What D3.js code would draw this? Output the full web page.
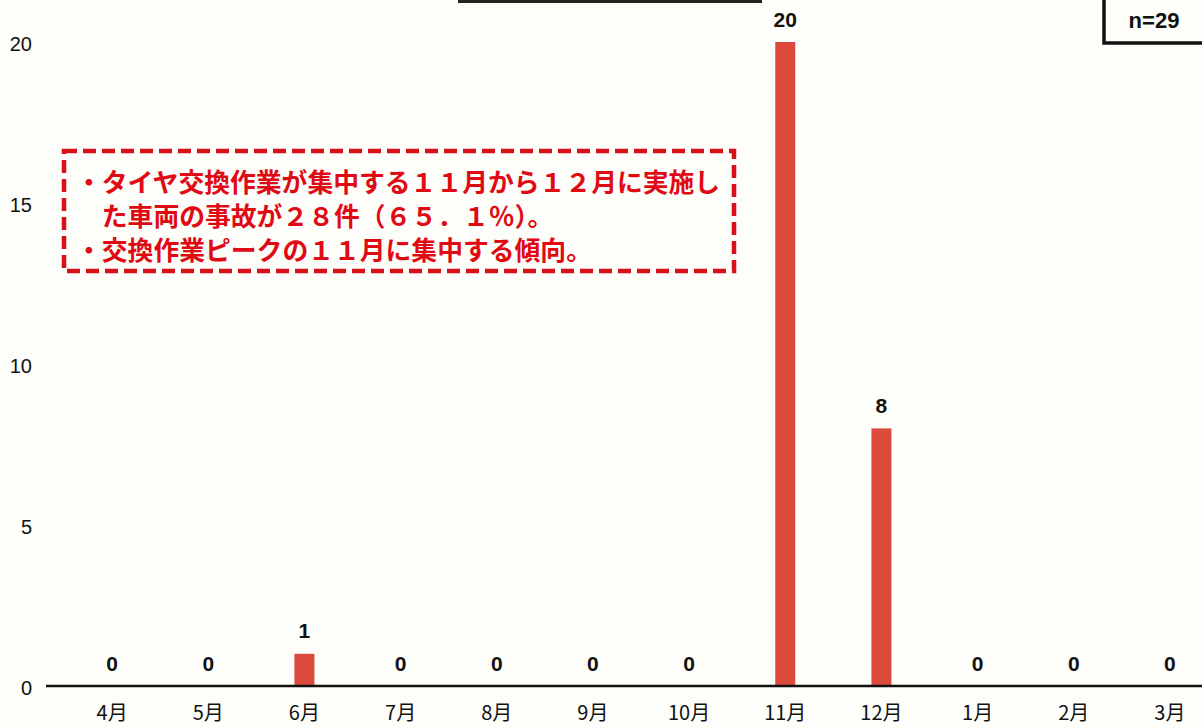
<!DOCTYPE html>
<html>
<head>
<meta charset="utf-8">
<script src="https://cdn.jsdelivr.net/npm/d3@7/dist/d3.min.js"></script>
<style>
  html, body { margin: 0; padding: 0; background: #fdfdf9; }
  svg { display: block; }
</style>
</head>
<body>
<div id="chart"></div>
<script>
// Monthly accident counts (April through March)
const months = ["4月", "5月", "6月", "7月", "8月", "9月", "10月", "11月", "12月", "1月", "2月", "3月"];
const counts = [0, 0, 1, 0, 0, 0, 0, 20, 8, 0, 0, 0];
const yTicks = [0, 5, 10, 15, 20];
const noteLines = [
  "・タイヤ交換作業が集中する１１月から１２月に実施し",
  "　た車両の事故が２８件（６５．１％）。",
  "・交換作業ピークの１１月に集中する傾向。"
];
const sampleLabel = "n=29";

const W = 1202, H = 728;
const font = "'Noto Sans CJK JP', 'Liberation Sans', sans-serif";
const latin = "'Liberation Sans', Arial, sans-serif";

const svg = d3.select("#chart").append("svg")
  .attr("width", W).attr("height", H)
  .style("background", "#fdfdf9");

const x = d3.scaleBand().domain(months).range([64, 1218]).paddingInner(0).paddingOuter(0);
const y = d3.scaleLinear().domain([0, 20]).range([686, 42]);
const barW = 20;

// Partial title underline running off the top edge
svg.append("line")
  .attr("x1", 458).attr("x2", 762).attr("y1", 1.5).attr("y2", 1.5)
  .attr("stroke", "#222").attr("stroke-width", 3);

// y tick labels
svg.append("g").selectAll("text").data(yTicks).join("text")
  .attr("x", 32).attr("y", d => y(d) + 2)
  .attr("dy", "0.36em")
  .attr("text-anchor", "end")
  .attr("font-family", latin)
  .attr("font-size", 20)
  .attr("fill", "#111")
  .text(d => d);

// Bars
svg.append("g").selectAll("rect").data(counts).join("rect")
  .attr("x", (d, i) => x(months[i]) + x.bandwidth() / 2 - barW / 2)
  .attr("y", d => y(d))
  .attr("width", barW)
  .attr("height", d => y(0) - y(d))
  .attr("fill", "#dc4a3e");

// Value labels
svg.append("g").selectAll("text").data(counts).join("text")
  .attr("x", (d, i) => x(months[i]) + x.bandwidth() / 2)
  .attr("y", d => y(d) - 23)
  .attr("dy", "0.36em")
  .attr("text-anchor", "middle")
  .attr("font-family", latin)
  .attr("font-weight", "bold")
  .attr("font-size", 21)
  .attr("fill", "#111")
  .text(d => d);

// Baseline axis
svg.append("line")
  .attr("x1", 46).attr("x2", W).attr("y1", y(0)).attr("y2", y(0))
  .attr("stroke", "#111").attr("stroke-width", 2.5);

// Month labels
const xAxis = d3.axisBottom(x).tickSize(0).tickPadding(0);
const gx = svg.append("g").attr("transform", `translate(0,${y(0)})`).call(xAxis);
gx.select(".domain").remove();
gx.selectAll("text")
  .attr("y", 27)
  .attr("dy", "0.36em")
  .attr("font-family", font)
  .attr("font-size", 20)
  .attr("fill", "#111");

// Dashed red note box
svg.append("rect")
  .attr("x", 64).attr("y", 151).attr("width", 670).attr("height", 120)
  .attr("fill", "none")
  .attr("stroke", "#d8101a").attr("stroke-width", 4.5)
  .attr("stroke-dasharray", "13,6");

svg.append("g").selectAll("text").data(noteLines).join("text")
  .attr("x", 76)
  .attr("y", (d, i) => 183 + i * 34)
  .attr("dy", "0.36em")
  .attr("font-family", font)
  .attr("font-weight", "bold")
  .attr("font-size", 25.8)
  .attr("fill", "#e00a14")
  .text(d => d);

// Sample size box
svg.append("rect")
  .attr("x", 1104).attr("y", -4).attr("width", 104).attr("height", 47)
  .attr("fill", "#fdfdf9")
  .attr("stroke", "#111").attr("stroke-width", 3.5);
svg.append("text")
  .attr("x", 1154).attr("y", 20)
  .attr("dy", "0.36em")
  .attr("text-anchor", "middle")
  .attr("font-family", latin)
  .attr("font-weight", "bold")
  .attr("font-size", 22)
  .attr("fill", "#111")
  .text(sampleLabel);
</script>
</body>
</html>
